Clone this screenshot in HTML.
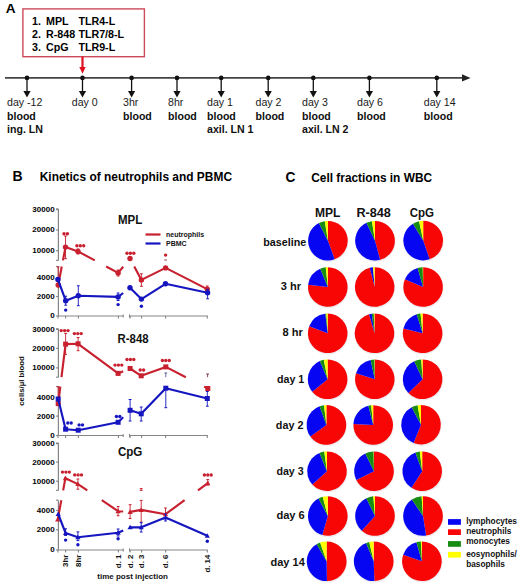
<!DOCTYPE html>
<html><head><meta charset="utf-8"><style>
html,body{margin:0;padding:0;background:#fff;}
svg{display:block;font-family:"Liberation Sans", sans-serif;}
</style></head><body>
<svg width="520" height="585" viewBox="0 0 520 585">
<rect width="520" height="585" fill="#fff"/>
<text x="5.8" y="13.4" font-size="13.6" font-weight="bold">A</text>
<rect x="22.9" y="8.9" width="121.5" height="47.8" fill="none" stroke="#cc4a5c" stroke-width="1.4"/>
<text x="32" y="24.599999999999998" font-size="10.7" font-weight="bold">1.</text>
<text x="46" y="24.599999999999998" font-size="10.7" font-weight="bold">MPL</text>
<text x="78.4" y="24.599999999999998" font-size="10.7" font-weight="bold">TLR4-L</text>
<text x="32" y="37.8" font-size="10.7" font-weight="bold">2.</text>
<text x="46" y="37.8" font-size="10.7" font-weight="bold">R-848</text>
<text x="78.4" y="37.8" font-size="10.7" font-weight="bold">TLR7/8-L</text>
<text x="32" y="51.0" font-size="10.7" font-weight="bold">3.</text>
<text x="46" y="51.0" font-size="10.7" font-weight="bold">CpG</text>
<text x="78.4" y="51.0" font-size="10.7" font-weight="bold">TLR9-L</text>
<line x1="82.5" y1="56.7" x2="82.5" y2="68" stroke="#e01020" stroke-width="2.2"/>
<polygon points="79.3,67 85.7,67 82.5,73.8" fill="#e01020"/>
<line x1="5" y1="77.9" x2="464" y2="77.9" stroke="#444" stroke-width="1.7"/>
<polygon points="462,74.30000000000001 470.5,77.9 462,81.5" fill="#222"/>
<circle cx="27" cy="77.9" r="2.3" fill="#111"/>
<line x1="27" y1="77.9" x2="27" y2="92" stroke="#111" stroke-width="1.3"/>
<polygon points="23.4,91 30.6,91 27,97.6" fill="#111"/>
<circle cx="82.5" cy="77.9" r="2.3" fill="#111"/>
<line x1="82.5" y1="77.9" x2="82.5" y2="92" stroke="#111" stroke-width="1.3"/>
<polygon points="78.9,91 86.1,91 82.5,97.6" fill="#111"/>
<circle cx="131.6" cy="77.9" r="2.3" fill="#111"/>
<line x1="131.6" y1="77.9" x2="131.6" y2="92" stroke="#111" stroke-width="1.3"/>
<polygon points="128.0,91 135.2,91 131.6,97.6" fill="#111"/>
<circle cx="177" cy="77.9" r="2.3" fill="#111"/>
<line x1="177" y1="77.9" x2="177" y2="92" stroke="#111" stroke-width="1.3"/>
<polygon points="173.4,91 180.6,91 177,97.6" fill="#111"/>
<circle cx="221.2" cy="77.9" r="2.3" fill="#111"/>
<line x1="221.2" y1="77.9" x2="221.2" y2="92" stroke="#111" stroke-width="1.3"/>
<polygon points="217.6,91 224.79999999999998,91 221.2,97.6" fill="#111"/>
<circle cx="268.2" cy="77.9" r="2.3" fill="#111"/>
<line x1="268.2" y1="77.9" x2="268.2" y2="92" stroke="#111" stroke-width="1.3"/>
<polygon points="264.59999999999997,91 271.8,91 268.2,97.6" fill="#111"/>
<circle cx="313.3" cy="77.9" r="2.3" fill="#111"/>
<line x1="313.3" y1="77.9" x2="313.3" y2="92" stroke="#111" stroke-width="1.3"/>
<polygon points="309.7,91 316.90000000000003,91 313.3,97.6" fill="#111"/>
<circle cx="369.4" cy="77.9" r="2.3" fill="#111"/>
<line x1="369.4" y1="77.9" x2="369.4" y2="92" stroke="#111" stroke-width="1.3"/>
<polygon points="365.79999999999995,91 373.0,91 369.4,97.6" fill="#111"/>
<circle cx="436.8" cy="77.9" r="2.3" fill="#111"/>
<line x1="436.8" y1="77.9" x2="436.8" y2="92" stroke="#111" stroke-width="1.3"/>
<polygon points="433.2,91 440.40000000000003,91 436.8,97.6" fill="#111"/>
<text x="7" y="106.4" font-size="10.6" fill="#1a1a1a">day -12</text>
<text x="7" y="119.7" font-size="10.6" font-weight="bold" fill="#111">blood</text>
<text x="7" y="132.7" font-size="10.6" font-weight="bold" fill="#111">ing. LN</text>
<text x="71.8" y="106.4" font-size="10.6" fill="#1a1a1a">day 0</text>
<text x="123" y="106.4" font-size="10.6" fill="#1a1a1a">3hr</text>
<text x="123" y="119.7" font-size="10.6" font-weight="bold" fill="#111">blood</text>
<text x="168" y="106.4" font-size="10.6" fill="#1a1a1a">8hr</text>
<text x="168" y="119.7" font-size="10.6" font-weight="bold" fill="#111">blood</text>
<text x="207" y="106.4" font-size="10.6" fill="#1a1a1a">day 1</text>
<text x="207" y="119.7" font-size="10.6" font-weight="bold" fill="#111">blood</text>
<text x="207" y="132.7" font-size="10.6" font-weight="bold" fill="#111">axil. LN 1</text>
<text x="255.5" y="106.4" font-size="10.6" fill="#1a1a1a">day 2</text>
<text x="255.5" y="119.7" font-size="10.6" font-weight="bold" fill="#111">blood</text>
<text x="302" y="106.4" font-size="10.6" fill="#1a1a1a">day 3</text>
<text x="302" y="119.7" font-size="10.6" font-weight="bold" fill="#111">blood</text>
<text x="302" y="132.7" font-size="10.6" font-weight="bold" fill="#111">axil. LN 2</text>
<text x="357" y="106.4" font-size="10.6" fill="#1a1a1a">day 6</text>
<text x="357" y="119.7" font-size="10.6" font-weight="bold" fill="#111">blood</text>
<text x="423.8" y="106.4" font-size="10.6" fill="#1a1a1a">day 14</text>
<text x="423.8" y="119.7" font-size="10.6" font-weight="bold" fill="#111">blood</text>
<text x="12.5" y="181.3" font-size="14" font-weight="bold">B</text>
<text x="39.7" y="180.8" font-size="11.95" font-weight="bold">Kinetics of neutrophils and PBMC</text>
<text x="285.4" y="181.7" font-size="15" font-weight="bold" textLength="9.9" lengthAdjust="spacingAndGlyphs">C</text>
<text x="311.2" y="182" font-size="11.9" font-weight="bold">Cell fractions in WBC</text>
<circle cx="328.2" cy="241.6" r="20.3" fill="#ececf0"/>
<path d="M327.90,240.70 L327.90,220.90 A19.8,19.8 0 0 1 334.67,259.31 Z" fill="#f80606"/>
<path d="M327.90,240.70 L334.67,259.31 A19.8,19.8 0 0 1 318.91,223.06 Z" fill="#0606f2"/>
<path d="M327.90,240.70 L318.91,223.06 A19.8,19.8 0 0 1 324.80,221.14 Z" fill="#168c12"/>
<path d="M327.90,240.70 L324.80,221.14 A19.8,19.8 0 0 1 327.90,220.90 Z" fill="#ffff00"/>
<circle cx="375.3" cy="241.6" r="20.3" fill="#ececf0"/>
<path d="M375.00,240.70 L375.00,220.90 A19.8,19.8 0 0 1 380.12,259.83 Z" fill="#f80606"/>
<path d="M375.00,240.70 L380.12,259.83 A19.8,19.8 0 0 1 366.48,222.83 Z" fill="#0606f2"/>
<path d="M375.00,240.70 L366.48,222.83 A19.8,19.8 0 0 1 371.90,221.14 Z" fill="#168c12"/>
<path d="M375.00,240.70 L371.90,221.14 A19.8,19.8 0 0 1 375.00,220.90 Z" fill="#ffff00"/>
<circle cx="423.5" cy="241.5" r="20.3" fill="#ececf0"/>
<path d="M423.20,240.60 L423.20,220.80 A19.8,19.8 0 0 1 429.65,259.32 Z" fill="#f80606"/>
<path d="M423.20,240.60 L429.65,259.32 A19.8,19.8 0 0 1 413.00,223.63 Z" fill="#0606f2"/>
<path d="M423.20,240.60 L413.00,223.63 A19.8,19.8 0 0 1 419.08,221.23 Z" fill="#168c12"/>
<path d="M423.20,240.60 L419.08,221.23 A19.8,19.8 0 0 1 423.20,220.80 Z" fill="#ffff00"/>
<circle cx="328.1" cy="287.9" r="20.3" fill="#ececf0"/>
<path d="M327.80,287.00 L327.80,267.20 A19.8,19.8 0 1 1 308.13,284.76 Z" fill="#f80606"/>
<path d="M327.80,287.00 L308.13,284.76 A19.8,19.8 0 0 1 320.25,268.69 Z" fill="#0606f2"/>
<path d="M327.80,287.00 L320.25,268.69 A19.8,19.8 0 0 1 325.73,267.31 Z" fill="#168c12"/>
<path d="M327.80,287.00 L325.73,267.31 A19.8,19.8 0 0 1 327.80,267.20 Z" fill="#ffff00"/>
<circle cx="375.0" cy="287.9" r="20.3" fill="#ececf0"/>
<path d="M374.70,287.00 L374.70,267.20 A19.8,19.8 0 1 1 369.74,267.83 Z" fill="#f80606"/>
<path d="M374.70,287.00 L369.74,267.83 A19.8,19.8 0 0 1 372.97,267.28 Z" fill="#0606f2"/>

<path d="M374.70,287.00 L372.97,267.28 A19.8,19.8 0 0 1 374.70,267.20 Z" fill="#ffff00"/>
<circle cx="423.40000000000003" cy="287.9" r="20.3" fill="#ececf0"/>
<path d="M423.10,287.00 L423.10,267.20 A19.8,19.8 0 1 1 404.87,279.26 Z" fill="#f80606"/>
<path d="M423.10,287.00 L404.87,279.26 A19.8,19.8 0 0 1 417.64,267.97 Z" fill="#0606f2"/>
<path d="M423.10,287.00 L417.64,267.97 A19.8,19.8 0 0 1 422.75,267.20 Z" fill="#168c12"/>
<path d="M423.10,287.00 L422.75,267.20 A19.8,19.8 0 0 1 423.10,267.20 Z" fill="#ffff00"/>
<circle cx="328.0" cy="334.2" r="20.3" fill="#ececf0"/>
<path d="M327.70,333.30 L327.70,313.50 A19.8,19.8 0 1 1 309.18,326.30 Z" fill="#f80606"/>
<path d="M327.70,333.30 L309.18,326.30 A19.8,19.8 0 0 1 325.29,313.65 Z" fill="#0606f2"/>
<path d="M327.70,333.30 L325.29,313.65 A19.8,19.8 0 0 1 326.32,313.55 Z" fill="#168c12"/>
<path d="M327.70,333.30 L326.32,313.55 A19.8,19.8 0 0 1 327.70,313.50 Z" fill="#ffff00"/>
<circle cx="374.8" cy="334.2" r="20.3" fill="#ececf0"/>
<path d="M374.50,333.30 L374.50,313.50 A19.8,19.8 0 1 1 369.04,314.27 Z" fill="#f80606"/>
<path d="M374.50,333.30 L369.04,314.27 A19.8,19.8 0 0 1 371.74,313.69 Z" fill="#0606f2"/>
<path d="M374.50,333.30 L371.74,313.69 A19.8,19.8 0 0 1 373.81,313.51 Z" fill="#168c12"/>
<path d="M374.50,333.30 L373.81,313.51 A19.8,19.8 0 0 1 374.50,313.50 Z" fill="#ffff00"/>
<circle cx="422.90000000000003" cy="334.2" r="20.3" fill="#ececf0"/>
<path d="M422.60,333.30 L422.60,313.50 A19.8,19.8 0 1 1 403.39,328.51 Z" fill="#f80606"/>
<path d="M422.60,333.30 L403.39,328.51 A19.8,19.8 0 0 1 416.81,314.37 Z" fill="#0606f2"/>
<path d="M422.60,333.30 L416.81,314.37 A19.8,19.8 0 0 1 420.53,313.61 Z" fill="#168c12"/>
<path d="M422.60,333.30 L420.53,313.61 A19.8,19.8 0 0 1 422.60,313.50 Z" fill="#ffff00"/>
<circle cx="327.90000000000003" cy="380.2" r="20.3" fill="#ececf0"/>
<path d="M327.60,379.30 L327.60,359.50 A19.8,19.8 0 1 1 312.21,391.76 Z" fill="#f80606"/>
<path d="M327.60,379.30 L312.21,391.76 A19.8,19.8 0 0 1 319.86,361.07 Z" fill="#0606f2"/>
<path d="M327.60,379.30 L319.86,361.07 A19.8,19.8 0 0 1 323.82,359.86 Z" fill="#168c12"/>
<path d="M327.60,379.30 L323.82,359.86 A19.8,19.8 0 0 1 327.60,359.50 Z" fill="#ffff00"/>
<circle cx="375.1" cy="380.2" r="20.3" fill="#ececf0"/>
<path d="M374.80,379.30 L374.80,359.50 A19.8,19.8 0 1 1 355.97,373.18 Z" fill="#f80606"/>
<path d="M374.80,379.30 L355.97,373.18 A19.8,19.8 0 0 1 370.68,359.93 Z" fill="#0606f2"/>
<path d="M374.80,379.30 L370.68,359.93 A19.8,19.8 0 0 1 374.45,359.50 Z" fill="#168c12"/>
<path d="M374.80,379.30 L374.45,359.50 A19.8,19.8 0 0 1 374.80,359.50 Z" fill="#ffff00"/>
<circle cx="422.90000000000003" cy="380.2" r="20.3" fill="#ececf0"/>
<path d="M422.60,379.30 L422.60,359.50 A19.8,19.8 0 1 1 408.36,393.05 Z" fill="#f80606"/>
<path d="M422.60,379.30 L408.36,393.05 A19.8,19.8 0 0 1 414.23,361.36 Z" fill="#0606f2"/>
<path d="M422.60,379.30 L414.23,361.36 A19.8,19.8 0 0 1 421.22,359.55 Z" fill="#168c12"/>
<path d="M422.60,379.30 L421.22,359.55 A19.8,19.8 0 0 1 422.60,359.50 Z" fill="#ffff00"/>
<circle cx="326.7" cy="425.79999999999995" r="20.3" fill="#ececf0"/>
<path d="M326.40,424.90 L326.40,405.10 A19.8,19.8 0 1 1 310.38,436.54 Z" fill="#f80606"/>
<path d="M326.40,424.90 L310.38,436.54 A19.8,19.8 0 0 1 319.63,406.29 Z" fill="#0606f2"/>
<path d="M326.40,424.90 L319.63,406.29 A19.8,19.8 0 0 1 323.99,405.25 Z" fill="#168c12"/>
<path d="M326.40,424.90 L323.99,405.25 A19.8,19.8 0 0 1 326.40,405.10 Z" fill="#ffff00"/>
<circle cx="373.5" cy="425.9" r="20.3" fill="#ececf0"/>
<path d="M373.20,425.00 L373.20,405.20 A19.8,19.8 0 1 1 353.43,423.96 Z" fill="#f80606"/>
<path d="M373.20,425.00 L353.43,423.96 A19.8,19.8 0 0 1 368.41,405.79 Z" fill="#0606f2"/>
<path d="M373.20,425.00 L368.41,405.79 A19.8,19.8 0 0 1 371.13,405.31 Z" fill="#168c12"/>
<path d="M373.20,425.00 L371.13,405.31 A19.8,19.8 0 0 1 373.20,405.20 Z" fill="#ffff00"/>
<circle cx="421.3" cy="425.59999999999997" r="20.3" fill="#ececf0"/>
<path d="M421.00,424.70 L421.00,404.90 A19.8,19.8 0 1 1 413.58,443.06 Z" fill="#f80606"/>
<path d="M421.00,424.70 L413.58,443.06 A19.8,19.8 0 0 1 411.70,407.22 Z" fill="#0606f2"/>
<path d="M421.00,424.70 L411.70,407.22 A19.8,19.8 0 0 1 417.56,405.20 Z" fill="#168c12"/>
<path d="M421.00,424.70 L417.56,405.20 A19.8,19.8 0 0 1 421.00,404.90 Z" fill="#ffff00"/>
<circle cx="327.3" cy="472.09999999999997" r="20.3" fill="#ececf0"/>
<path d="M327.00,471.20 L327.00,451.40 A19.8,19.8 0 1 1 312.29,484.45 Z" fill="#f80606"/>
<path d="M327.00,471.20 L312.29,484.45 A19.8,19.8 0 0 1 319.42,452.91 Z" fill="#0606f2"/>
<path d="M327.00,471.20 L319.42,452.91 A19.8,19.8 0 0 1 324.24,451.59 Z" fill="#168c12"/>
<path d="M327.00,471.20 L324.24,451.59 A19.8,19.8 0 0 1 327.00,451.40 Z" fill="#ffff00"/>
<circle cx="374.3" cy="472.09999999999997" r="20.3" fill="#ececf0"/>
<path d="M374.00,471.20 L374.00,451.40 A19.8,19.8 0 1 1 356.28,480.03 Z" fill="#f80606"/>
<path d="M374.00,471.20 L356.28,480.03 A19.8,19.8 0 0 1 365.32,453.40 Z" fill="#0606f2"/>
<path d="M374.00,471.20 L365.32,453.40 A19.8,19.8 0 0 1 373.65,451.40 Z" fill="#168c12"/>
<path d="M374.00,471.20 L373.65,451.40 A19.8,19.8 0 0 1 374.00,451.40 Z" fill="#ffff00"/>
<circle cx="422.5" cy="472.09999999999997" r="20.3" fill="#ececf0"/>
<path d="M422.20,471.20 L422.20,451.40 A19.8,19.8 0 1 1 411.42,487.81 Z" fill="#f80606"/>
<path d="M422.20,471.20 L411.42,487.81 A19.8,19.8 0 0 1 415.43,452.59 Z" fill="#0606f2"/>
<path d="M422.20,471.20 L415.43,452.59 A19.8,19.8 0 0 1 419.79,451.55 Z" fill="#168c12"/>
<path d="M422.20,471.20 L419.79,451.55 A19.8,19.8 0 0 1 422.20,451.40 Z" fill="#ffff00"/>
<circle cx="328.1" cy="516.9" r="20.3" fill="#ececf0"/>
<path d="M327.80,516.00 L327.80,496.20 A19.8,19.8 0 1 1 322.34,535.03 Z" fill="#f80606"/>
<path d="M327.80,516.00 L322.34,535.03 A19.8,19.8 0 0 1 318.50,498.52 Z" fill="#0606f2"/>
<path d="M327.80,516.00 L318.50,498.52 A19.8,19.8 0 0 1 322.68,496.87 Z" fill="#168c12"/>
<path d="M327.80,516.00 L322.68,496.87 A19.8,19.8 0 0 1 327.80,496.20 Z" fill="#ffff00"/>
<circle cx="375.3" cy="516.9" r="20.3" fill="#ececf0"/>
<path d="M375.00,516.00 L375.00,496.20 A19.8,19.8 0 1 1 361.75,530.71 Z" fill="#f80606"/>
<path d="M375.00,516.00 L361.75,530.71 A19.8,19.8 0 0 1 366.32,498.20 Z" fill="#0606f2"/>
<path d="M375.00,516.00 L366.32,498.20 A19.8,19.8 0 0 1 373.27,496.28 Z" fill="#168c12"/>
<path d="M375.00,516.00 L373.27,496.28 A19.8,19.8 0 0 1 375.00,496.20 Z" fill="#ffff00"/>
<circle cx="423.3" cy="516.9" r="20.3" fill="#ececf0"/>
<path d="M423.00,516.00 L423.00,496.20 A19.8,19.8 0 0 1 426.10,535.56 Z" fill="#f80606"/>
<path d="M423.00,516.00 L426.10,535.56 A19.8,19.8 0 0 1 411.93,499.59 Z" fill="#0606f2"/>
<path d="M423.00,516.00 L411.93,499.59 A19.8,19.8 0 0 1 421.62,496.25 Z" fill="#168c12"/>
<path d="M423.00,516.00 L421.62,496.25 A19.8,19.8 0 0 1 423.00,496.20 Z" fill="#ffff00"/>
<circle cx="326.90000000000003" cy="562.1999999999999" r="20.3" fill="#ececf0"/>
<path d="M326.60,561.30 L326.60,541.50 A19.8,19.8 0 0 1 326.95,581.10 Z" fill="#f80606"/>
<path d="M326.60,561.30 L326.95,581.10 A19.8,19.8 0 0 1 316.70,544.15 Z" fill="#0606f2"/>
<path d="M326.60,561.30 L316.70,544.15 A19.8,19.8 0 0 1 320.15,542.58 Z" fill="#168c12"/>
<path d="M326.60,561.30 L320.15,542.58 A19.8,19.8 0 0 1 326.60,541.50 Z" fill="#ffff00"/>
<circle cx="374.0" cy="562.1999999999999" r="20.3" fill="#ececf0"/>
<path d="M373.70,561.30 L373.70,541.50 A19.8,19.8 0 0 1 374.39,581.09 Z" fill="#f80606"/>
<path d="M373.70,561.30 L374.39,581.09 A19.8,19.8 0 0 1 366.12,543.01 Z" fill="#0606f2"/>
<path d="M373.70,561.30 L366.12,543.01 A19.8,19.8 0 0 1 369.25,542.01 Z" fill="#168c12"/>
<path d="M373.70,561.30 L369.25,542.01 A19.8,19.8 0 0 1 373.70,541.50 Z" fill="#ffff00"/>
<circle cx="422.2" cy="562.1999999999999" r="20.3" fill="#ececf0"/>
<path d="M421.90,561.30 L421.90,541.50 A19.8,19.8 0 1 1 403.18,554.85 Z" fill="#f80606"/>
<path d="M421.90,561.30 L403.18,554.85 A19.8,19.8 0 0 1 416.44,542.27 Z" fill="#0606f2"/>
<path d="M421.90,561.30 L416.44,542.27 A19.8,19.8 0 0 1 420.86,541.53 Z" fill="#168c12"/>
<path d="M421.90,561.30 L420.86,541.53 A19.8,19.8 0 0 1 421.90,541.50 Z" fill="#ffff00"/>
<text x="314.9" y="217.4" font-size="12" font-weight="bold" fill="#111" textLength="25.400000000000013" lengthAdjust="spacingAndGlyphs">MPL</text>
<text x="356.4" y="217.4" font-size="12" font-weight="bold" fill="#111" textLength="34.500000000000036" lengthAdjust="spacingAndGlyphs">R-848</text>
<text x="409.7" y="217.4" font-size="12" font-weight="bold" fill="#111" textLength="24.29999999999999" lengthAdjust="spacingAndGlyphs">CpG</text>
<text x="263.3" y="245.79999999999998" font-size="11.2" font-weight="bold" fill="#111" textLength="42.99999999999998" lengthAdjust="spacingAndGlyphs">baseline</text>
<text x="280.7" y="290.09999999999997" font-size="11.2" font-weight="bold" fill="#111" textLength="20.29999999999999" lengthAdjust="spacingAndGlyphs">3 hr</text>
<text x="282.4" y="336.4" font-size="11.2" font-weight="bold" fill="#111" textLength="20.400000000000013" lengthAdjust="spacingAndGlyphs">8 hr</text>
<text x="277.0" y="383.09999999999997" font-size="11.2" font-weight="bold" fill="#111" textLength="27.29999999999999" lengthAdjust="spacingAndGlyphs">day 1</text>
<text x="275.8" y="428.8" font-size="11.2" font-weight="bold" fill="#111" textLength="27.6" lengthAdjust="spacingAndGlyphs">day 2</text>
<text x="276.4" y="475.3" font-size="11.2" font-weight="bold" fill="#111" textLength="27.200000000000024" lengthAdjust="spacingAndGlyphs">day 3</text>
<text x="276.4" y="519.4000000000001" font-size="11.2" font-weight="bold" fill="#111" textLength="28.400000000000013" lengthAdjust="spacingAndGlyphs">day 6</text>
<text x="270.5" y="565.5" font-size="11.2" font-weight="bold" fill="#111" textLength="34.29999999999999" lengthAdjust="spacingAndGlyphs">day 14</text>
<rect x="448" y="519.1" width="12.9" height="5.7" fill="#0606f2"/>
<text x="466.2" y="523.5" font-size="8.3" font-weight="bold" fill="#111">lymphocytes</text>
<rect x="448" y="529.3" width="12.9" height="5.7" fill="#f80606"/>
<text x="466.2" y="534.3" font-size="8.3" font-weight="bold" fill="#111">neutrophils</text>
<rect x="448" y="541.1" width="12.9" height="5.7" fill="#168c12"/>
<text x="466.2" y="544.4" font-size="8.3" font-weight="bold" fill="#111">monocytes</text>
<rect x="448" y="551.9" width="12.9" height="5.7" fill="#ffff00"/>
<text x="466.2" y="557.4" font-size="8.3" font-weight="bold" fill="#111">eosynophils/</text>
<text x="466.2" y="566.5" font-size="8.3" font-weight="bold" fill="#111">basophils</text>
<line x1="58.4" y1="208.9" x2="58.4" y2="260.4" stroke="#858585" stroke-width="1.2"/>
<line x1="58.4" y1="266.5" x2="58.4" y2="316" stroke="#858585" stroke-width="1.2"/>
<line x1="56.1" y1="208.9" x2="58.4" y2="208.9" stroke="#858585" stroke-width="1.2"/>
<line x1="56.1" y1="260.4" x2="58.4" y2="260.4" stroke="#858585" stroke-width="1.2"/>
<line x1="56.1" y1="266.5" x2="58.4" y2="266.5" stroke="#858585" stroke-width="1.2"/>
<line x1="56.1" y1="209.6" x2="58.4" y2="209.6" stroke="#858585" stroke-width="1.2"/>
<text x="54.6" y="212.0" font-size="8" font-weight="bold" text-anchor="end" fill="#000">30000</text>
<line x1="56.1" y1="230" x2="58.4" y2="230" stroke="#858585" stroke-width="1.2"/>
<text x="54.6" y="232.4" font-size="8" font-weight="bold" text-anchor="end" fill="#000">20000</text>
<line x1="56.1" y1="250.7" x2="58.4" y2="250.7" stroke="#858585" stroke-width="1.2"/>
<text x="54.6" y="253.1" font-size="8" font-weight="bold" text-anchor="end" fill="#000">10000</text>
<line x1="56.1" y1="277.8" x2="58.4" y2="277.8" stroke="#858585" stroke-width="1.2"/>
<text x="54.6" y="280.2" font-size="8" font-weight="bold" text-anchor="end" fill="#000">4000</text>
<line x1="56.1" y1="296.5" x2="58.4" y2="296.5" stroke="#858585" stroke-width="1.2"/>
<text x="54.6" y="298.9" font-size="8" font-weight="bold" text-anchor="end" fill="#000">2000</text>
<line x1="56.1" y1="316" x2="58.4" y2="316" stroke="#858585" stroke-width="1.2"/>
<text x="54.6" y="318.4" font-size="8" font-weight="bold" text-anchor="end" fill="#000">0</text>
<line x1="58.4" y1="316" x2="123.2" y2="316" stroke="#858585" stroke-width="1.2"/>
<line x1="129.5" y1="316" x2="207.8" y2="316" stroke="#858585" stroke-width="1.2"/>
<line x1="123.2" y1="314.4" x2="123.2" y2="317.6" stroke="#858585" stroke-width="1.1"/>
<line x1="129.5" y1="314.4" x2="129.5" y2="317.6" stroke="#858585" stroke-width="1.1"/>
<line x1="58.0" y1="316" x2="58.0" y2="318.6" stroke="#858585" stroke-width="1.1"/>
<line x1="65.6" y1="316" x2="65.6" y2="318.6" stroke="#858585" stroke-width="1.1"/>
<line x1="78.4" y1="316" x2="78.4" y2="318.6" stroke="#858585" stroke-width="1.1"/>
<line x1="118.4" y1="316" x2="118.4" y2="318.6" stroke="#858585" stroke-width="1.1"/>
<line x1="130.1" y1="316" x2="130.1" y2="318.6" stroke="#858585" stroke-width="1.1"/>
<line x1="141.6" y1="316" x2="141.6" y2="318.6" stroke="#858585" stroke-width="1.1"/>
<line x1="165.6" y1="316" x2="165.6" y2="318.6" stroke="#858585" stroke-width="1.1"/>
<line x1="207.3" y1="316" x2="207.3" y2="318.6" stroke="#858585" stroke-width="1.1"/>
<text x="118.0" y="223.5" font-size="12" font-weight="bold" fill="#111" textLength="24.3" lengthAdjust="spacingAndGlyphs">MPL</text>
<line x1="58.4" y1="328.8" x2="58.4" y2="377.2" stroke="#858585" stroke-width="1.2"/>
<line x1="58.4" y1="386.6" x2="58.4" y2="435.5" stroke="#858585" stroke-width="1.2"/>
<line x1="56.1" y1="328.8" x2="58.4" y2="328.8" stroke="#858585" stroke-width="1.2"/>
<line x1="56.1" y1="377.2" x2="58.4" y2="377.2" stroke="#858585" stroke-width="1.2"/>
<line x1="56.1" y1="386.6" x2="58.4" y2="386.6" stroke="#858585" stroke-width="1.2"/>
<line x1="56.1" y1="329.4" x2="58.4" y2="329.4" stroke="#858585" stroke-width="1.2"/>
<text x="54.6" y="331.79999999999995" font-size="8" font-weight="bold" text-anchor="end" fill="#000">30000</text>
<line x1="56.1" y1="348.3" x2="58.4" y2="348.3" stroke="#858585" stroke-width="1.2"/>
<text x="54.6" y="350.7" font-size="8" font-weight="bold" text-anchor="end" fill="#000">20000</text>
<line x1="56.1" y1="367.9" x2="58.4" y2="367.9" stroke="#858585" stroke-width="1.2"/>
<text x="54.6" y="370.29999999999995" font-size="8" font-weight="bold" text-anchor="end" fill="#000">10000</text>
<line x1="56.1" y1="397.7" x2="58.4" y2="397.7" stroke="#858585" stroke-width="1.2"/>
<text x="54.6" y="400.09999999999997" font-size="8" font-weight="bold" text-anchor="end" fill="#000">4000</text>
<line x1="56.1" y1="416.1" x2="58.4" y2="416.1" stroke="#858585" stroke-width="1.2"/>
<text x="54.6" y="418.5" font-size="8" font-weight="bold" text-anchor="end" fill="#000">2000</text>
<line x1="56.1" y1="435.5" x2="58.4" y2="435.5" stroke="#858585" stroke-width="1.2"/>
<text x="54.6" y="437.9" font-size="8" font-weight="bold" text-anchor="end" fill="#000">0</text>
<line x1="58.4" y1="435.5" x2="123.2" y2="435.5" stroke="#858585" stroke-width="1.2"/>
<line x1="129.5" y1="435.5" x2="207.8" y2="435.5" stroke="#858585" stroke-width="1.2"/>
<line x1="123.2" y1="433.9" x2="123.2" y2="437.1" stroke="#858585" stroke-width="1.1"/>
<line x1="129.5" y1="433.9" x2="129.5" y2="437.1" stroke="#858585" stroke-width="1.1"/>
<line x1="58.0" y1="435.5" x2="58.0" y2="438.1" stroke="#858585" stroke-width="1.1"/>
<line x1="65.6" y1="435.5" x2="65.6" y2="438.1" stroke="#858585" stroke-width="1.1"/>
<line x1="78.4" y1="435.5" x2="78.4" y2="438.1" stroke="#858585" stroke-width="1.1"/>
<line x1="118.4" y1="435.5" x2="118.4" y2="438.1" stroke="#858585" stroke-width="1.1"/>
<line x1="130.1" y1="435.5" x2="130.1" y2="438.1" stroke="#858585" stroke-width="1.1"/>
<line x1="141.6" y1="435.5" x2="141.6" y2="438.1" stroke="#858585" stroke-width="1.1"/>
<line x1="165.6" y1="435.5" x2="165.6" y2="438.1" stroke="#858585" stroke-width="1.1"/>
<line x1="207.3" y1="435.5" x2="207.3" y2="438.1" stroke="#858585" stroke-width="1.1"/>
<text x="117.6" y="342.6" font-size="12" font-weight="bold" fill="#111" textLength="31.0" lengthAdjust="spacingAndGlyphs">R-848</text>
<line x1="58.4" y1="443" x2="58.4" y2="490.4" stroke="#858585" stroke-width="1.2"/>
<line x1="58.4" y1="500.2" x2="58.4" y2="550" stroke="#858585" stroke-width="1.2"/>
<line x1="56.1" y1="443" x2="58.4" y2="443" stroke="#858585" stroke-width="1.2"/>
<line x1="56.1" y1="490.4" x2="58.4" y2="490.4" stroke="#858585" stroke-width="1.2"/>
<line x1="56.1" y1="500.2" x2="58.4" y2="500.2" stroke="#858585" stroke-width="1.2"/>
<line x1="56.1" y1="443.6" x2="58.4" y2="443.6" stroke="#858585" stroke-width="1.2"/>
<text x="54.6" y="446.0" font-size="8" font-weight="bold" text-anchor="end" fill="#000">30000</text>
<line x1="56.1" y1="462.1" x2="58.4" y2="462.1" stroke="#858585" stroke-width="1.2"/>
<text x="54.6" y="464.5" font-size="8" font-weight="bold" text-anchor="end" fill="#000">20000</text>
<line x1="56.1" y1="481.2" x2="58.4" y2="481.2" stroke="#858585" stroke-width="1.2"/>
<text x="54.6" y="483.59999999999997" font-size="8" font-weight="bold" text-anchor="end" fill="#000">10000</text>
<line x1="56.1" y1="510.5" x2="58.4" y2="510.5" stroke="#858585" stroke-width="1.2"/>
<text x="54.6" y="512.9" font-size="8" font-weight="bold" text-anchor="end" fill="#000">4000</text>
<line x1="56.1" y1="529.8" x2="58.4" y2="529.8" stroke="#858585" stroke-width="1.2"/>
<text x="54.6" y="532.1999999999999" font-size="8" font-weight="bold" text-anchor="end" fill="#000">2000</text>
<line x1="56.1" y1="550" x2="58.4" y2="550" stroke="#858585" stroke-width="1.2"/>
<text x="54.6" y="552.4" font-size="8" font-weight="bold" text-anchor="end" fill="#000">0</text>
<line x1="58.4" y1="550" x2="123.2" y2="550" stroke="#858585" stroke-width="1.2"/>
<line x1="129.5" y1="550" x2="207.8" y2="550" stroke="#858585" stroke-width="1.2"/>
<line x1="123.2" y1="548.4" x2="123.2" y2="551.6" stroke="#858585" stroke-width="1.1"/>
<line x1="129.5" y1="548.4" x2="129.5" y2="551.6" stroke="#858585" stroke-width="1.1"/>
<line x1="58.0" y1="550" x2="58.0" y2="552.6" stroke="#858585" stroke-width="1.1"/>
<line x1="65.6" y1="550" x2="65.6" y2="552.6" stroke="#858585" stroke-width="1.1"/>
<line x1="78.4" y1="550" x2="78.4" y2="552.6" stroke="#858585" stroke-width="1.1"/>
<line x1="118.4" y1="550" x2="118.4" y2="552.6" stroke="#858585" stroke-width="1.1"/>
<line x1="130.1" y1="550" x2="130.1" y2="552.6" stroke="#858585" stroke-width="1.1"/>
<line x1="141.6" y1="550" x2="141.6" y2="552.6" stroke="#858585" stroke-width="1.1"/>
<line x1="165.6" y1="550" x2="165.6" y2="552.6" stroke="#858585" stroke-width="1.1"/>
<line x1="207.3" y1="550" x2="207.3" y2="552.6" stroke="#858585" stroke-width="1.1"/>
<text x="117.9" y="455.8" font-size="12" font-weight="bold" fill="#111" textLength="24.5" lengthAdjust="spacingAndGlyphs">CpG</text>
<line x1="58.2" y1="267" x2="58.2" y2="288" stroke="#c8202f" stroke-width="0.9"/>
<line x1="56.800000000000004" y1="267" x2="59.6" y2="267" stroke="#c8202f" stroke-width="1"/>
<line x1="65.5" y1="236" x2="65.5" y2="258.7" stroke="#c8202f" stroke-width="0.9"/>
<line x1="64.1" y1="236" x2="66.9" y2="236" stroke="#c8202f" stroke-width="1"/>
<line x1="64.1" y1="258.7" x2="66.9" y2="258.7" stroke="#c8202f" stroke-width="1"/>
<line x1="78" y1="249" x2="78" y2="254" stroke="#c8202f" stroke-width="0.9"/>
<line x1="76.6" y1="249" x2="79.4" y2="249" stroke="#c8202f" stroke-width="1"/>
<line x1="76.6" y1="254" x2="79.4" y2="254" stroke="#c8202f" stroke-width="1"/>
<line x1="118.1" y1="270" x2="118.1" y2="276" stroke="#c8202f" stroke-width="0.9"/>
<line x1="116.69999999999999" y1="270" x2="119.5" y2="270" stroke="#c8202f" stroke-width="1"/>
<line x1="116.69999999999999" y1="276" x2="119.5" y2="276" stroke="#c8202f" stroke-width="1"/>
<line x1="141.4" y1="273.8" x2="141.4" y2="286.3" stroke="#c8202f" stroke-width="0.9"/>
<line x1="140.0" y1="273.8" x2="142.8" y2="273.8" stroke="#c8202f" stroke-width="1"/>
<line x1="140.0" y1="286.3" x2="142.8" y2="286.3" stroke="#c8202f" stroke-width="1"/>
<line x1="164.2" y1="260" x2="167.0" y2="260" stroke="#8a4a50" stroke-width="1"/>
<line x1="207.2" y1="286" x2="207.2" y2="292" stroke="#c8202f" stroke-width="0.9"/>
<line x1="205.79999999999998" y1="286" x2="208.6" y2="286" stroke="#c8202f" stroke-width="1"/>
<line x1="205.79999999999998" y1="292" x2="208.6" y2="292" stroke="#c8202f" stroke-width="1"/>
<polyline points="62.94,260.40 65.50,247.10 78.00,251.40 94.79,260.40" fill="none" stroke="#c8202f" stroke-width="2.15" stroke-linejoin="round" stroke-linecap="butt"/>
<polyline points="58.20,285.00 61.76,266.50" fill="none" stroke="#c8202f" stroke-width="2.15" stroke-linejoin="round" stroke-linecap="butt"/>
<polyline points="106.16,266.50 118.10,272.90 123.20,266.73" fill="none" stroke="#c8202f" stroke-width="2.15" stroke-linejoin="round" stroke-linecap="butt"/>
<polyline points="129.50,259.11 130.00,258.50 131.01,260.40" fill="none" stroke="#c8202f" stroke-width="2.15" stroke-linejoin="round" stroke-linecap="butt"/>
<polyline points="134.26,266.50 141.40,279.90 165.60,267.90 207.20,289.10" fill="none" stroke="#c8202f" stroke-width="2.15" stroke-linejoin="round" stroke-linecap="butt"/>
<circle cx="58.2" cy="285" r="2.7" fill="#c8202f"/>
<circle cx="65.5" cy="247.1" r="2.7" fill="#c8202f"/>
<circle cx="78" cy="251.4" r="2.7" fill="#c8202f"/>
<circle cx="118.1" cy="272.9" r="2.7" fill="#c8202f"/>
<circle cx="130.0" cy="258.5" r="2.7" fill="#c8202f"/>
<circle cx="141.4" cy="279.9" r="2.7" fill="#c8202f"/>
<circle cx="165.6" cy="267.9" r="2.7" fill="#c8202f"/>
<circle cx="207.2" cy="289.1" r="2.7" fill="#c8202f"/>
<circle cx="64.00" cy="233.7" r="1.7" fill="#c8202f"/><circle cx="67.40" cy="233.7" r="1.7" fill="#c8202f"/>
<circle cx="76.90" cy="245.7" r="1.7" fill="#c8202f"/><circle cx="80.30" cy="245.7" r="1.7" fill="#c8202f"/><circle cx="83.70" cy="245.7" r="1.7" fill="#c8202f"/>
<circle cx="127.00" cy="253.3" r="1.7" fill="#c8202f"/><circle cx="130.40" cy="253.3" r="1.7" fill="#c8202f"/><circle cx="133.80" cy="253.3" r="1.7" fill="#c8202f"/>
<circle cx="165.60" cy="255.1" r="1.7" fill="#c8202f"/>
<line x1="65.7" y1="296.2" x2="65.7" y2="305.2" stroke="#1616c0" stroke-width="0.9"/>
<line x1="64.3" y1="296.2" x2="67.10000000000001" y2="296.2" stroke="#1616c0" stroke-width="1"/>
<line x1="64.3" y1="305.2" x2="67.10000000000001" y2="305.2" stroke="#1616c0" stroke-width="1"/>
<line x1="78.3" y1="285.8" x2="78.3" y2="305.7" stroke="#1616c0" stroke-width="0.9"/>
<line x1="76.89999999999999" y1="285.8" x2="79.7" y2="285.8" stroke="#1616c0" stroke-width="1"/>
<line x1="76.89999999999999" y1="305.7" x2="79.7" y2="305.7" stroke="#1616c0" stroke-width="1"/>
<line x1="118.1" y1="293" x2="118.1" y2="300.5" stroke="#1616c0" stroke-width="0.9"/>
<line x1="116.69999999999999" y1="293" x2="119.5" y2="293" stroke="#1616c0" stroke-width="1"/>
<line x1="116.69999999999999" y1="300.5" x2="119.5" y2="300.5" stroke="#1616c0" stroke-width="1"/>
<line x1="207.6" y1="289.4" x2="207.6" y2="298.8" stroke="#1616c0" stroke-width="0.9"/>
<line x1="206.2" y1="289.4" x2="209.0" y2="289.4" stroke="#1616c0" stroke-width="1"/>
<line x1="206.2" y1="298.8" x2="209.0" y2="298.8" stroke="#1616c0" stroke-width="1"/>
<polyline points="57.90,279.40 65.70,300.70 78.30,295.70 118.10,296.90 123.20,293.00" fill="none" stroke="#1616c0" stroke-width="2.15" stroke-linejoin="round" stroke-linecap="butt"/>
<polyline points="129.50,288.18 130.00,287.80 141.40,299.10 165.50,283.80 207.60,292.80" fill="none" stroke="#1616c0" stroke-width="2.15" stroke-linejoin="round" stroke-linecap="butt"/>
<circle cx="57.9" cy="279.4" r="2.7" fill="#1616c0"/>
<circle cx="65.7" cy="300.7" r="2.7" fill="#1616c0"/>
<circle cx="78.3" cy="295.7" r="2.7" fill="#1616c0"/>
<circle cx="118.1" cy="296.9" r="2.7" fill="#1616c0"/>
<circle cx="130.0" cy="287.8" r="2.7" fill="#1616c0"/>
<circle cx="141.4" cy="299.1" r="2.7" fill="#1616c0"/>
<circle cx="165.5" cy="283.8" r="2.7" fill="#1616c0"/>
<circle cx="207.6" cy="292.8" r="2.7" fill="#1616c0"/>
<circle cx="65.70" cy="310.1" r="1.7" fill="#1616c0"/>
<circle cx="118.10" cy="304.6" r="1.7" fill="#1616c0"/>
<circle cx="141.40" cy="306.3" r="1.7" fill="#1616c0"/>
<line x1="58.2" y1="386.7" x2="58.2" y2="405.6" stroke="#c8202f" stroke-width="0.9"/>
<line x1="56.800000000000004" y1="386.7" x2="59.6" y2="386.7" stroke="#c8202f" stroke-width="1"/>
<line x1="56.800000000000004" y1="405.6" x2="59.6" y2="405.6" stroke="#c8202f" stroke-width="1"/>
<line x1="65.6" y1="333.4" x2="65.6" y2="354.3" stroke="#c8202f" stroke-width="0.9"/>
<line x1="64.19999999999999" y1="333.4" x2="67.0" y2="333.4" stroke="#c8202f" stroke-width="1"/>
<line x1="64.19999999999999" y1="354.3" x2="67.0" y2="354.3" stroke="#c8202f" stroke-width="1"/>
<line x1="78.1" y1="337.5" x2="78.1" y2="350.7" stroke="#c8202f" stroke-width="0.9"/>
<line x1="76.69999999999999" y1="337.5" x2="79.5" y2="337.5" stroke="#c8202f" stroke-width="1"/>
<line x1="76.69999999999999" y1="350.7" x2="79.5" y2="350.7" stroke="#c8202f" stroke-width="1"/>
<line x1="207.6" y1="374" x2="207.6" y2="377.2" stroke="#7a3a44" stroke-width="0.9"/>
<line x1="206.2" y1="374" x2="209.0" y2="374" stroke="#7a3a44" stroke-width="1"/>
<polyline points="61.48,377.20 65.60,344.10 78.10,343.80 118.10,373.40 123.20,371.32" fill="none" stroke="#c8202f" stroke-width="2.15" stroke-linejoin="round" stroke-linecap="butt"/>
<polyline points="58.20,403.60 60.31,386.60" fill="none" stroke="#c8202f" stroke-width="2.15" stroke-linejoin="round" stroke-linecap="butt"/>
<polyline points="129.50,368.75 130.10,368.50 141.20,375.80 165.80,366.90 185.83,377.20" fill="none" stroke="#c8202f" stroke-width="2.15" stroke-linejoin="round" stroke-linecap="butt"/>
<polyline points="204.11,386.60 207.80,388.50" fill="none" stroke="#c8202f" stroke-width="2.15" stroke-linejoin="round" stroke-linecap="butt"/>
<rect x="55.7" y="401.1" width="5" height="5" fill="#c8202f"/>
<rect x="63.099999999999994" y="341.6" width="5" height="5" fill="#c8202f"/>
<rect x="75.6" y="341.3" width="5" height="5" fill="#c8202f"/>
<rect x="115.6" y="370.9" width="5" height="5" fill="#c8202f"/>
<rect x="127.6" y="366.0" width="5" height="5" fill="#c8202f"/>
<rect x="138.7" y="373.3" width="5" height="5" fill="#c8202f"/>
<rect x="163.3" y="364.4" width="5" height="5" fill="#c8202f"/>
<rect x="205.3" y="386.0" width="5" height="5" fill="#c8202f"/>
<circle cx="61.20" cy="330.6" r="1.7" fill="#c8202f"/><circle cx="64.60" cy="330.6" r="1.7" fill="#c8202f"/><circle cx="68.00" cy="330.6" r="1.7" fill="#c8202f"/>
<circle cx="74.40" cy="333.6" r="1.7" fill="#c8202f"/><circle cx="77.80" cy="333.6" r="1.7" fill="#c8202f"/><circle cx="81.20" cy="333.6" r="1.7" fill="#c8202f"/>
<circle cx="115.00" cy="365.1" r="1.7" fill="#c8202f"/><circle cx="118.40" cy="365.1" r="1.7" fill="#c8202f"/><circle cx="121.80" cy="365.1" r="1.7" fill="#c8202f"/>
<circle cx="127.00" cy="359.5" r="1.7" fill="#c8202f"/><circle cx="130.40" cy="359.5" r="1.7" fill="#c8202f"/><circle cx="133.80" cy="359.5" r="1.7" fill="#c8202f"/>
<circle cx="140.20" cy="370" r="1.7" fill="#c8202f"/><circle cx="143.60" cy="370" r="1.7" fill="#c8202f"/>
<circle cx="162.40" cy="360.5" r="1.7" fill="#c8202f"/><circle cx="165.80" cy="360.5" r="1.7" fill="#c8202f"/><circle cx="169.20" cy="360.5" r="1.7" fill="#c8202f"/>
<line x1="130.1" y1="399.5" x2="130.1" y2="421" stroke="#1616c0" stroke-width="0.9"/>
<line x1="128.7" y1="399.5" x2="131.5" y2="399.5" stroke="#1616c0" stroke-width="1"/>
<line x1="128.7" y1="421" x2="131.5" y2="421" stroke="#1616c0" stroke-width="1"/>
<line x1="141.2" y1="407" x2="141.2" y2="421" stroke="#1616c0" stroke-width="0.9"/>
<line x1="139.79999999999998" y1="407" x2="142.6" y2="407" stroke="#1616c0" stroke-width="1"/>
<line x1="139.79999999999998" y1="421" x2="142.6" y2="421" stroke="#1616c0" stroke-width="1"/>
<line x1="165.8" y1="388" x2="165.8" y2="407.7" stroke="#1616c0" stroke-width="0.9"/>
<line x1="164.4" y1="407.7" x2="167.20000000000002" y2="407.7" stroke="#1616c0" stroke-width="1"/>
<line x1="165.8" y1="373" x2="165.8" y2="377.2" stroke="#5a5a9a" stroke-width="0.9"/>
<line x1="164.4" y1="373" x2="167.20000000000002" y2="373" stroke="#5a5a9a" stroke-width="1"/>
<line x1="207.3" y1="391.5" x2="207.3" y2="406.2" stroke="#1616c0" stroke-width="0.9"/>
<line x1="205.9" y1="391.5" x2="208.70000000000002" y2="391.5" stroke="#1616c0" stroke-width="1"/>
<line x1="205.9" y1="406.2" x2="208.70000000000002" y2="406.2" stroke="#1616c0" stroke-width="1"/>
<polyline points="58.20,399.00 65.60,429.20 78.20,430.20 118.10,422.30 123.20,417.20" fill="none" stroke="#1616c0" stroke-width="2.15" stroke-linejoin="round" stroke-linecap="butt"/>
<polyline points="129.50,410.90 130.10,410.30 141.20,413.80 165.80,388.20 207.30,398.50" fill="none" stroke="#1616c0" stroke-width="2.15" stroke-linejoin="round" stroke-linecap="butt"/>
<rect x="55.7" y="396.5" width="5" height="5" fill="#1616c0"/>
<rect x="63.099999999999994" y="426.7" width="5" height="5" fill="#1616c0"/>
<rect x="75.7" y="427.7" width="5" height="5" fill="#1616c0"/>
<rect x="115.6" y="419.8" width="5" height="5" fill="#1616c0"/>
<rect x="127.6" y="407.8" width="5" height="5" fill="#1616c0"/>
<rect x="138.7" y="411.3" width="5" height="5" fill="#1616c0"/>
<rect x="163.3" y="385.7" width="5" height="5" fill="#1616c0"/>
<rect x="204.8" y="396.0" width="5" height="5" fill="#1616c0"/>
<circle cx="67.80" cy="423" r="1.7" fill="#1616c0"/><circle cx="71.20" cy="423" r="1.7" fill="#1616c0"/>
<circle cx="79.10" cy="424.9" r="1.7" fill="#1616c0"/><circle cx="82.50" cy="424.9" r="1.7" fill="#1616c0"/>
<circle cx="116.40" cy="416.5" r="1.7" fill="#1616c0"/><circle cx="119.80" cy="416.5" r="1.7" fill="#1616c0"/>
<line x1="77.9" y1="479" x2="77.9" y2="489.2" stroke="#c8202f" stroke-width="0.9"/>
<line x1="76.5" y1="479" x2="79.30000000000001" y2="479" stroke="#c8202f" stroke-width="1"/>
<line x1="76.5" y1="489.2" x2="79.30000000000001" y2="489.2" stroke="#c8202f" stroke-width="1"/>
<line x1="118.1" y1="506.5" x2="118.1" y2="515.8" stroke="#c8202f" stroke-width="0.9"/>
<line x1="116.69999999999999" y1="506.5" x2="119.5" y2="506.5" stroke="#c8202f" stroke-width="1"/>
<line x1="116.69999999999999" y1="515.8" x2="119.5" y2="515.8" stroke="#c8202f" stroke-width="1"/>
<line x1="130.1" y1="504.7" x2="130.1" y2="518.5" stroke="#c8202f" stroke-width="0.9"/>
<line x1="128.7" y1="504.7" x2="131.5" y2="504.7" stroke="#c8202f" stroke-width="1"/>
<line x1="128.7" y1="518.5" x2="131.5" y2="518.5" stroke="#c8202f" stroke-width="1"/>
<line x1="141.2" y1="500.4" x2="141.2" y2="522.2" stroke="#c8202f" stroke-width="0.9"/>
<line x1="139.79999999999998" y1="500.4" x2="142.6" y2="500.4" stroke="#c8202f" stroke-width="1"/>
<line x1="139.79999999999998" y1="522.2" x2="142.6" y2="522.2" stroke="#c8202f" stroke-width="1"/>
<line x1="141.2" y1="488.6" x2="141.2" y2="490.4" stroke="#c8202f" stroke-width="0.9"/>
<line x1="139.79999999999998" y1="488.6" x2="142.6" y2="488.6" stroke="#c8202f" stroke-width="1"/>
<line x1="139.79999999999998" y1="490.4" x2="142.6" y2="490.4" stroke="#c8202f" stroke-width="1"/>
<line x1="165.5" y1="508" x2="165.5" y2="518" stroke="#c8202f" stroke-width="0.9"/>
<line x1="164.1" y1="508" x2="166.9" y2="508" stroke="#c8202f" stroke-width="1"/>
<line x1="164.1" y1="518" x2="166.9" y2="518" stroke="#c8202f" stroke-width="1"/>
<line x1="207.8" y1="479.6" x2="207.8" y2="485" stroke="#c8202f" stroke-width="0.9"/>
<line x1="206.4" y1="479.6" x2="209.20000000000002" y2="479.6" stroke="#c8202f" stroke-width="1"/>
<line x1="206.4" y1="485" x2="209.20000000000002" y2="485" stroke="#c8202f" stroke-width="1"/>
<polyline points="63.13,490.40 65.40,478.20 77.90,484.10 87.25,490.40" fill="none" stroke="#c8202f" stroke-width="2.15" stroke-linejoin="round" stroke-linecap="butt"/>
<polyline points="57.70,519.60 61.31,500.20" fill="none" stroke="#c8202f" stroke-width="2.15" stroke-linejoin="round" stroke-linecap="butt"/>
<polyline points="101.78,500.20 118.10,511.20 123.20,511.50" fill="none" stroke="#c8202f" stroke-width="2.15" stroke-linejoin="round" stroke-linecap="butt"/>
<polyline points="197.98,490.40 207.80,483.20" fill="none" stroke="#c8202f" stroke-width="2.15" stroke-linejoin="round" stroke-linecap="butt"/>
<polyline points="129.50,511.86 130.10,511.90 141.20,509.90 165.50,514.20 184.60,500.20" fill="none" stroke="#c8202f" stroke-width="2.15" stroke-linejoin="round" stroke-linecap="butt"/>
<polygon points="55.1,521.6 60.300000000000004,521.6 57.7,517.0" fill="#c8202f"/>
<polygon points="62.800000000000004,480.2 68.0,480.2 65.4,475.59999999999997" fill="#c8202f"/>
<polygon points="75.30000000000001,486.1 80.5,486.1 77.9,481.5" fill="#c8202f"/>
<polygon points="115.5,513.2 120.69999999999999,513.2 118.1,508.59999999999997" fill="#c8202f"/>
<polygon points="127.5,513.9 132.7,513.9 130.1,509.29999999999995" fill="#c8202f"/>
<polygon points="138.6,511.9 143.79999999999998,511.9 141.2,507.29999999999995" fill="#c8202f"/>
<polygon points="162.9,516.2 168.1,516.2 165.5,511.6" fill="#c8202f"/>
<polygon points="205.20000000000002,485.2 210.4,485.2 207.8,480.59999999999997" fill="#c8202f"/>
<circle cx="62.50" cy="472.1" r="1.7" fill="#c8202f"/><circle cx="65.90" cy="472.1" r="1.7" fill="#c8202f"/><circle cx="69.30" cy="472.1" r="1.7" fill="#c8202f"/>
<circle cx="74.70" cy="474.9" r="1.7" fill="#c8202f"/><circle cx="78.10" cy="474.9" r="1.7" fill="#c8202f"/><circle cx="81.50" cy="474.9" r="1.7" fill="#c8202f"/>
<circle cx="204.40" cy="475" r="1.7" fill="#c8202f"/><circle cx="207.80" cy="475" r="1.7" fill="#c8202f"/><circle cx="211.20" cy="475" r="1.7" fill="#c8202f"/>
<line x1="65.6" y1="528.8" x2="65.6" y2="535.5" stroke="#1616c0" stroke-width="0.9"/>
<line x1="64.19999999999999" y1="528.8" x2="67.0" y2="528.8" stroke="#1616c0" stroke-width="1"/>
<line x1="64.19999999999999" y1="535.5" x2="67.0" y2="535.5" stroke="#1616c0" stroke-width="1"/>
<line x1="77.9" y1="531.9" x2="77.9" y2="540.6" stroke="#1616c0" stroke-width="0.9"/>
<line x1="76.5" y1="531.9" x2="79.30000000000001" y2="531.9" stroke="#1616c0" stroke-width="1"/>
<line x1="76.5" y1="540.6" x2="79.30000000000001" y2="540.6" stroke="#1616c0" stroke-width="1"/>
<line x1="118.1" y1="529" x2="118.1" y2="536" stroke="#1616c0" stroke-width="0.9"/>
<line x1="116.69999999999999" y1="529" x2="119.5" y2="529" stroke="#1616c0" stroke-width="1"/>
<line x1="116.69999999999999" y1="536" x2="119.5" y2="536" stroke="#1616c0" stroke-width="1"/>
<line x1="141.2" y1="522.7" x2="141.2" y2="532" stroke="#1616c0" stroke-width="0.9"/>
<line x1="139.79999999999998" y1="522.7" x2="142.6" y2="522.7" stroke="#1616c0" stroke-width="1"/>
<line x1="139.79999999999998" y1="532" x2="142.6" y2="532" stroke="#1616c0" stroke-width="1"/>
<line x1="165.5" y1="514" x2="165.5" y2="521" stroke="#1616c0" stroke-width="0.9"/>
<line x1="164.1" y1="514" x2="166.9" y2="514" stroke="#1616c0" stroke-width="1"/>
<line x1="164.1" y1="521" x2="166.9" y2="521" stroke="#1616c0" stroke-width="1"/>
<polyline points="58.20,514.00 65.60,533.10 77.90,537.20 118.10,532.70 123.20,530.40" fill="none" stroke="#1616c0" stroke-width="2.15" stroke-linejoin="round" stroke-linecap="butt"/>
<polyline points="129.50,527.57 130.10,527.30 141.20,527.30 165.50,517.60 207.30,535.80" fill="none" stroke="#1616c0" stroke-width="2.15" stroke-linejoin="round" stroke-linecap="butt"/>
<polygon points="55.6,516 60.800000000000004,516 58.2,511.4" fill="#1616c0"/>
<polygon points="62.99999999999999,535.1 68.19999999999999,535.1 65.6,530.5" fill="#1616c0"/>
<polygon points="75.30000000000001,539.2 80.5,539.2 77.9,534.6" fill="#1616c0"/>
<polygon points="115.5,534.7 120.69999999999999,534.7 118.1,530.1" fill="#1616c0"/>
<polygon points="127.5,529.3 132.7,529.3 130.1,524.6999999999999" fill="#1616c0"/>
<polygon points="138.6,529.3 143.79999999999998,529.3 141.2,524.6999999999999" fill="#1616c0"/>
<polygon points="162.9,519.6 168.1,519.6 165.5,515.0" fill="#1616c0"/>
<polygon points="204.70000000000002,537.8 209.9,537.8 207.3,533.1999999999999" fill="#1616c0"/>
<circle cx="65.60" cy="540.1" r="1.7" fill="#1616c0"/>
<circle cx="77.90" cy="544.7" r="1.7" fill="#1616c0"/>
<circle cx="118.10" cy="538.8" r="1.7" fill="#1616c0"/>
<circle cx="207.30" cy="541.2" r="1.7" fill="#1616c0"/>
<line x1="145.5" y1="234.5" x2="160.5" y2="234.5" stroke="#c8202f" stroke-width="2.2"/>
<line x1="145.5" y1="243.5" x2="160.5" y2="243.5" stroke="#1616c0" stroke-width="2.2"/>
<text x="166" y="237.3" font-size="7" font-weight="bold" fill="#111">neutrophils</text>
<text x="166" y="246.3" font-size="7" font-weight="bold" fill="#111">PBMC</text>
<text transform="translate(24.2,381) rotate(-90)" font-size="7.8" font-weight="bold" text-anchor="middle" fill="#111">cells/&#181;l blood</text>
<text transform="translate(68.10000000000001,554.6) rotate(-90)" font-size="7.9" font-weight="bold" text-anchor="end" fill="#111">3hr</text>
<text transform="translate(80.8,554.6) rotate(-90)" font-size="7.9" font-weight="bold" text-anchor="end" fill="#111">8hr</text>
<text transform="translate(120.9,554.6) rotate(-90)" font-size="7.9" font-weight="bold" text-anchor="end" fill="#111">d. 1</text>
<text transform="translate(132.7,554.6) rotate(-90)" font-size="7.9" font-weight="bold" text-anchor="end" fill="#111">d. 2</text>
<text transform="translate(144.29999999999998,554.6) rotate(-90)" font-size="7.9" font-weight="bold" text-anchor="end" fill="#111">d. 3</text>
<text transform="translate(168.29999999999998,554.6) rotate(-90)" font-size="7.9" font-weight="bold" text-anchor="end" fill="#111">d. 6</text>
<text transform="translate(210.0,554.6) rotate(-90)" font-size="7.9" font-weight="bold" text-anchor="end" fill="#111">d. 14</text>
<text x="97.3" y="579" font-size="8" font-weight="bold" fill="#111">time post injection</text>
</svg></body></html>
